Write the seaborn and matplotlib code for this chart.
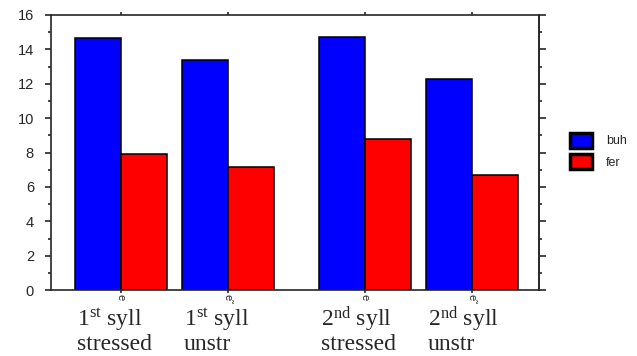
import numpy as np
import pandas as pd
import seaborn as sns
import matplotlib
matplotlib.use("Agg")
import matplotlib.pyplot as plt
import matplotlib.transforms as mtransforms
from matplotlib.patches import Patch
from matplotlib.ticker import MultipleLocator

# data
syll_line1 = ["1$^{\\mathrm{st}}$ syll", "1$^{\\mathrm{st}}$ syll", "2$^{\\mathrm{nd}}$ syll", "2$^{\\mathrm{nd}}$ syll"]
syll_line2 = ["stressed", "unstr", "stressed", "unstr"]
vowel_marks = ["e", "e\u02dc", "e", "e\u02dc"]
buh = [14.66, 13.38, 14.72, 12.27]
fer = [7.91, 7.16, 8.78, 6.69]
series = ["buh", "fer"]
colors = {"buh": "#0000ff", "fer": "#ff0000"}

sns.set_style("ticks")
plt.rcParams['font.family'] = ['Liberation Sans', 'DejaVu Sans']
plt.rcParams['mathtext.fontset'] = 'custom'
plt.rcParams['mathtext.rm'] = 'Liberation Serif'
plt.rcParams['mathtext.it'] = 'Liberation Serif:italic'

# group slots, with a wider gap between 1st and 2nd syllable pairs
pos = np.arange(len(buh)) + np.array([0, 0, 1, 1]) * 0.28

df = pd.DataFrame({
    "pos": np.tile(pos, 2),
    "value": buh + fer,
    "speaker": np.repeat(series, len(buh)),
})

fig = plt.figure(figsize=(6.37, 3.56), dpi=100)
ax = fig.add_axes([0.080, 0.185, 0.766, 0.773])
sns.barplot(data=df, x="pos", y="value", hue="speaker", hue_order=series,
            palette=colors, native_scale=True, width=0.86, edgecolor="black",
            linewidth=1.1, saturation=1, legend=False, ax=ax)

ax.set_xlim(-0.654, 3.907)
ax.set_ylim(0, 16)
ax.set_xlabel("")
ax.set_ylabel("")
for s in ax.spines.values():
    s.set_visible(True)
    s.set_linewidth(1.2)

ax.yaxis.set_major_locator(MultipleLocator(2))
ax.yaxis.set_minor_locator(MultipleLocator(1))
ax.tick_params(axis="y", which="major", direction="out", length=4.3, width=1.2, labelsize=10.5, pad=8)
ax.tick_params(axis="y", which="minor", direction="out", length=2, width=1.2)

ax.set_xticks(pos)
ax.set_xticklabels(vowel_marks, rotation=270, fontsize=8)
ax.tick_params(axis="x", which="major", direction="out", length=2, width=1.2, pad=1, top=True)

right = ax.secondary_yaxis("right")
right.yaxis.set_major_locator(MultipleLocator(2))
right.yaxis.set_minor_locator(MultipleLocator(1))
right.tick_params(which="major", length=5, width=1.2, labelright=False)
right.tick_params(which="minor", length=2, width=1.2)
right.spines["right"].set_linewidth(1.2)

trans = mtransforms.blended_transform_factory(ax.transData, ax.transAxes)
for x, l1, l2 in zip(pos, syll_line1, syll_line2):
    ax.text(x - 0.41, -0.13, l1, transform=trans, ha="left", va="baseline",
            fontsize=17, family="Liberation Serif")
    ax.text(x - 0.41, -0.218, l2, transform=trans, ha="left", va="baseline",
            fontsize=17, family="Liberation Serif")

handles = [Patch(facecolor=colors[s], edgecolor="black", linewidth=2.5, label=s) for s in series]
fig.legend(handles=handles, loc="center left", bbox_to_anchor=(0.877, 0.576),
           frameon=False, fontsize=9, handlelength=1.8, handleheight=1.45,
           handletextpad=1.1, labelspacing=0.55)

fig.savefig("out.png", dpi=100)
